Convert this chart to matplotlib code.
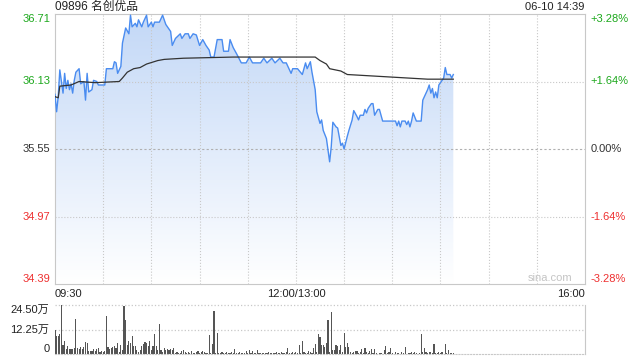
# Intraday chart for 09896 (名创优品), sina style: price + average line on top, volume bars below
# x axis is trading minutes counted from 09:30, lunch break removed (12:00 and 13:00 both sit at 150)

import numpy as np
import matplotlib.pyplot as plt
from matplotlib.colors import LinearSegmentedColormap

plt.rcParams['font.family'] = ['Liberation Sans', 'Noto Sans CJK SC']

title = '09896 名创优品'
stamp = '06-10 14:39'
prev_close = 35.55

# price line
price_min = [0, 1, 2, 3, 5, 6, 7, 8, 9, 10,
             11, 12, 13, 15, 16, 18, 19, 20, 21, 23,
             24, 26, 27, 31, 32, 36, 37, 38, 39, 41,
             42, 44, 46, 47, 48, 50, 51, 52, 54, 55,
             57, 58, 60, 61, 62, 65, 67, 69, 72, 73,
             75, 78, 79, 81, 83, 84, 86, 88, 90, 92,
             94, 96, 97, 99, 101, 104, 105, 108, 109, 111,
             113, 116, 119, 121, 123, 128, 130, 132, 135, 137,
             140, 142, 144, 147, 148, 151, 154, 156, 157, 159,
             160, 162, 163, 165, 166, 167, 169, 171, 172, 173,
             175, 176, 178, 179, 180, 182, 183, 185, 186, 188,
             189, 190, 192, 193, 194, 195, 197, 198, 199, 201,
             202, 204, 212, 213, 214, 215, 216, 218, 219, 220,
             221, 222, 223, 225, 228, 229, 231, 232, 233, 234,
             235, 236, 237, 238, 239, 241, 242, 243, 244, 246,
             247, 248]
price = [36.02, 35.87, 36.00, 36.23, 36.03, 36.20, 36.07, 36.14, 36.06, 36.11,
         36.03, 36.14, 36.21, 36.24, 36.11, 36.13, 35.97, 36.20, 36.04, 36.06,
         36.14, 36.13, 36.10, 36.10, 36.24, 36.24, 36.30, 36.29, 36.20, 36.26,
         36.46, 36.59, 36.54, 36.70, 36.60, 36.63, 36.60, 36.66, 36.60, 36.64,
         36.70, 36.60, 36.64, 36.60, 36.64, 36.64, 36.70, 36.62, 36.56, 36.44,
         36.50, 36.54, 36.50, 36.54, 36.54, 36.50, 36.54, 36.53, 36.44, 36.49,
         36.44, 36.40, 36.34, 36.34, 36.49, 36.49, 36.39, 36.39, 36.49, 36.42,
         36.37, 36.29, 36.29, 36.34, 36.29, 36.29, 36.33, 36.29, 36.33, 36.29,
         36.33, 36.29, 36.29, 36.20, 36.24, 36.24, 36.19, 36.29, 36.24, 36.30,
         36.21, 36.06, 35.87, 35.77, 35.80, 35.71, 35.64, 35.44, 35.57, 35.78,
         35.74, 35.73, 35.58, 35.60, 35.55, 35.66, 35.71, 35.80, 35.88, 35.83,
         35.80, 35.84, 35.84, 35.89, 35.86, 35.90, 35.94, 35.94, 35.84, 35.89,
         35.89, 35.79, 35.79, 35.75, 35.79, 35.74, 35.79, 35.79, 35.76, 35.79,
         35.74, 35.79, 35.86, 35.79, 35.79, 35.97, 36.03, 36.06, 36.10, 36.03,
         36.07, 35.99, 36.04, 35.99, 36.10, 36.14, 36.16, 36.25, 36.19, 36.19,
         36.16, 36.19]

# average price line
avg_min = [0, 2, 3, 10, 15, 25, 40, 42, 45, 49, 53, 57, 64, 68, 80, 111,
           152, 162, 165, 169, 171, 178, 182, 207, 232, 248]
avg_price = [36.00, 35.99, 36.09, 36.10, 36.13, 36.12, 36.13, 36.16, 36.21, 36.24,
             36.25, 36.28, 36.31, 36.32, 36.33, 36.34, 36.34, 36.34, 36.31, 36.28,
             36.24, 36.22, 36.19, 36.17, 36.15, 36.15]

# volume per minute, in 万 shares
vol = [12, 9, 9, 10, 24.5, 4.5, 6.5, 2.5, 4, 2.5,
       2.5, 2.5, 3, 17.5, 3, 2.5, 3.5, 2.5, 3.5, 6,
       5.5, 1.5, 1.5, 1.5, 2.5, 1.5, 2.5, 3, 1, 1.5,
       1, 1.5, 19, 3.5, 2.5, 3, 3.5, 4, 3, 5.5,
       1, 4.5, 2, 24, 17, 4.5, 6.5, 5.5, 9, 4,
       4, 2, 1, 2, 4, 5, 6, 5.5, 4, 6.5,
       2, 4, 10, 4, 2, 15, 2, 1, 3, 2,
       2.5, 2, 2.5, 2, 3, 0.5, 1, 0.5, 0.3, 1.5,
       2, 1, 0.5, 1, 0.3, 1.5, 0.5, 0.3, 1, 1.5,
       0.5, 1, 1.5, 1, 0.5, 0.3, 9.5, 0.5, 5, 21.5,
       0.5, 10.5, 0.3, 0.5, 1, 0.3, 0.5, 1, 0.3, 0.5,
       1, 0.3, 2.5, 0.5, 0.3, 1, 0.5, 0.3, 0.5, 1.5,
       0.3, 2, 0.5, 1.5, 0.3, 0.5, 2, 0.3, 0.5, 0.3,
       0.5, 0.3, 0.5, 1, 0.3, 0.5, 0.3, 0.5, 1, 0.3,
       0.5, 1, 0.3, 0.5, 1, 3, 0.5, 0.3, 1, 0.5,
       1, 0.5, 4.5, 0.5, 6.5, 1, 0.5, 0.5, 1.5, 1.2,
       0.5, 3, 5, 1, 10, 8.5, 4.5, 4.5, 3.5, 5.5,
       17, 1, 21, 2, 2, 4.7, 4, 2, 4.5, 1,
       10.5, 3.5, 5.5, 3.5, 1.2, 0.3, 1.2, 1.7, 1.5, 0.3,
       1.2, 2.3, 0.5, 3, 1.2, 0.3, 1.5, 2.5, 0.3, 2.5,
       0.3, 0.2, 0.3, 0.5, 0.2, 2, 4, 0.7, 1.2, 3,
       0.7, 0.2, 1.2, 0.3, 0.5, 0.2, 1.2, 0.5, 3.5, 0.2,
       0.7, 0.3, 1.2, 0.7, 1.2, 0.3, 0.2, 0.5, 10, 1.2,
       3, 1.2, 0.7, 1.2, 1, 0.5, 5, 0.7, 0.7, 1.2,
       0.7, 1.2, 0.2, 5, 0.7, 2, 0.5, 0.7, 0.3]
vol_min = np.arange(len(vol))

price_ticks = [34.39, 34.97, 35.55, 36.13, 36.71]
pct_labels = ['-3.28%', '-1.64%', '0.00%', '+1.64%', '+3.28%']
time_ticks = [0, 150, 330]
time_labels = ['09:30', '12:00/13:00', '16:00']
vol_ticks = [0, 12.25, 24.5]
vol_labels = ['0', '12.25万', '24.50万']

green = '#1ca81c'
red = '#ee3030'
grey = '#c8c8c8'
tick_colors = [red, red, '#333333', green, green]
tick_va = ['bottom', 'center', 'center', 'center', 'top']

fig = plt.figure(figsize=(6.4, 3.6), dpi=100)
ax = fig.add_axes([55/640, 76/360, 530/640, 270/360])
axv = fig.add_axes([55/640, 6/360, 530/640, 49/360])

# price + gradient fill under it
poly = ax.fill_between(price_min, price, price_ticks[0], color='none', lw=0)
fade = LinearSegmentedColormap.from_list('fade', ['#ffffff', '#c3d8f7'])
grad = np.linspace(1, 0, 256).reshape(-1, 1)
im = ax.imshow(grad, extent=[0, 330, price_ticks[0], price_ticks[-1]], aspect='auto',
               cmap=fade, origin='upper', zorder=0)
im.set_clip_path(poly.get_paths()[0], transform=ax.transData)
ax.plot(price_min, price, color='#4a8cf0', lw=1, zorder=3)
ax.plot(avg_min, avg_price, color='#333333', lw=0.9, zorder=3)

for m in range(30, 330, 30):
    ax.axvline(m, color=grey, ls=':', lw=0.8, zorder=1)
for p in price_ticks[1:-1]:
    ax.axhline(p, color='#b0b0b0' if p == prev_close else grey,
               ls=(0, (2, 2)) if p == prev_close else ':', lw=0.8, zorder=1)

ax.set_xlim(0, 330)
ax.set_ylim(price_ticks[0], price_ticks[-1])
for s in ax.spines.values():
    s.set_color(grey)

ax.set_yticks(price_ticks)
ax.set_yticklabels([f'{p:.2f}' for p in price_ticks])
ax.tick_params(length=0, labelsize=8, pad=3.5)
for lbl, c, va in zip(ax.get_yticklabels(), tick_colors, tick_va):
    lbl.set_color(c)
    lbl.set_va(va)

ax.set_xticks(time_ticks)
ax.set_xticklabels(time_labels, color='#222222')
for lbl, ha in zip(ax.get_xticklabels(), ['left', 'center', 'right']):
    lbl.set_ha(ha)

axr = ax.twinx()
axr.set_ylim(price_ticks[0], price_ticks[-1])
axr.set_yticks(price_ticks)
axr.set_yticklabels(pct_labels)
axr.tick_params(length=0, labelsize=8, pad=4)
for s in axr.spines.values():
    s.set_visible(False)
for lbl, c, va in zip(axr.get_yticklabels(), tick_colors, tick_va):
    lbl.set_color(c)
    lbl.set_va(va)

ax.text(0.977, 0.004, 'sina.com', transform=ax.transAxes, ha='right', va='bottom',
        color='#c4c4c4', fontsize=8)

# volume
axv.bar(vol_min, vol, width=0.7, color='#555555', lw=0)
axv.set_xlim(0, 330)
axv.set_ylim(0, 24.5)
for v in vol_ticks[1:]:
    axv.axhline(v, color=grey, ls=':', lw=0.9, clip_on=False, zorder=0)
axv.spines['top'].set_visible(False)
axv.spines['left'].set_visible(False)
axv.spines['right'].set_color(grey)
axv.spines['bottom'].set_color(grey)
axv.spines['bottom'].set_linestyle(':')
axv.set_xticks([])
axv.set_yticks(vol_ticks)
axv.set_yticklabels(vol_labels, color='#222222')
axv.tick_params(length=0, labelsize=8, pad=4)
for lbl, va in zip(axv.get_yticklabels(), ['bottom', 'center', 'top']):
    lbl.set_va(va)

fig.text(55/640, 1 - 7/360, title, va='center', ha='left', fontsize=8.5, color='#222222')
fig.text(584/640, 1 - 7/360, stamp, va='center', ha='right', fontsize=8, color='#222222')

fig.savefig('out.png', dpi=100)
